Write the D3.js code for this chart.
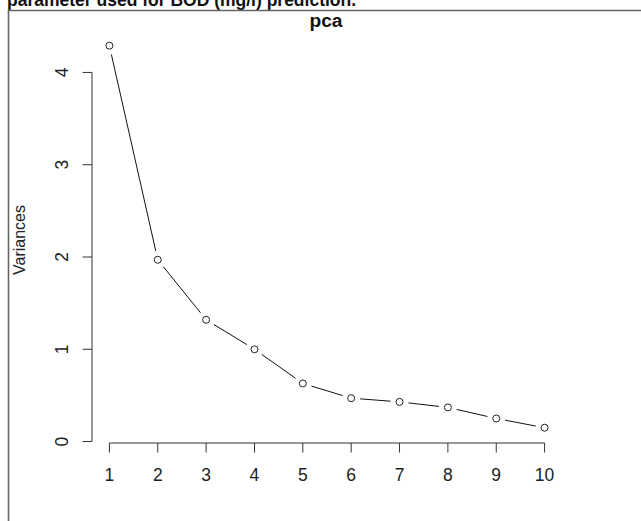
<!DOCTYPE html>
<html>
<head>
<meta charset="utf-8">
<script src="https://cdn.jsdelivr.net/npm/d3@7"></script>
<style>
  html, body { margin: 0; padding: 0; background: #fff; }
  svg { display: block; font-family: "Liberation Sans", Arial, Helvetica, sans-serif; }
</style>
</head>
<body>
<svg id="chart" width="641" height="521"></svg>
<script>
// ---- data ----
const components = [1, 2, 3, 4, 5, 6, 7, 8, 9, 10];
const variances = [4.29, 1.97, 1.32, 1.00, 0.63, 0.47, 0.43, 0.37, 0.25, 0.15];
const yTicks = [0, 1, 2, 3, 4];
const xTickLabels = ["1", "2", "3", "4", "5", "6", "7", "8", "9", "10"];
const chartTitle = "pca";
const yLabel = "Variances";
const captionText = "parameter used for BOD (mg/l) prediction.";

// ---- layout ----
const svg = d3.select("#chart");
const plot = { left: 92, right: 562, top: 30.4, bottom: 443 };

// R-style 4% axis expansion
const xr = d3.extent(components), xpad = (xr[1] - xr[0]) * 0.04;
const yr = d3.extent(variances), ypad = (yr[1] - yr[0]) * 0.04;
const x = d3.scaleLinear().domain([xr[0] - xpad, xr[1] + xpad]).range([plot.left, plot.right]);
const y = d3.scaleLinear().domain([yr[0] - ypad, yr[1] + ypad]).range([plot.bottom, plot.top]);

// cropped caption at top (cut off in the reference as well)
svg.append("text")
  .attr("x", 7).attr("y", 6)
  .attr("font-weight", "bold").attr("font-size", 17.5)
  .attr("fill", "#111")
  .text(captionText);

// outer frame (partially cropped)
svg.append("path")
  .attr("d", "M8.5,521 L8.5,10.5 L641,10.5")
  .attr("fill", "none").attr("stroke", "#666").attr("stroke-width", 1.6);

// title
svg.append("text")
  .attr("x", 326).attr("y", 27)
  .attr("text-anchor", "middle")
  .attr("font-weight", "bold").attr("font-size", 19.2)
  .attr("fill", "#111")
  .text(chartTitle);

// y axis
const yAxis = svg.append("g").attr("stroke", "#333").attr("fill", "none");
yAxis.append("line")
  .attr("x1", plot.left).attr("x2", plot.left)
  .attr("y1", y(yTicks[0])).attr("y2", y(yTicks[yTicks.length - 1]));
yAxis.selectAll("line.tick").data(yTicks).enter().append("line")
  .attr("class", "tick")
  .attr("x1", plot.left).attr("x2", plot.left - 9.5)
  .attr("y1", d => y(d)).attr("y2", d => y(d));
svg.selectAll("text.ytl").data(yTicks).enter().append("text")
  .attr("class", "ytl")
  .attr("transform", d => `translate(68,${y(d)}) rotate(-90)`)
  .attr("text-anchor", "middle")
  .attr("font-size", 17.5).attr("fill", "#222")
  .text(d => d);

// x axis
const xAxis = svg.append("g").attr("stroke", "#333").attr("fill", "none");
xAxis.append("line")
  .attr("x1", x(components[0])).attr("x2", x(components[components.length - 1]))
  .attr("y1", plot.bottom).attr("y2", plot.bottom);
xAxis.selectAll("line.tick").data(components).enter().append("line")
  .attr("class", "tick")
  .attr("x1", d => x(d)).attr("x2", d => x(d))
  .attr("y1", plot.bottom).attr("y2", plot.bottom + 9.5);
svg.selectAll("text.xtl").data(components).enter().append("text")
  .attr("class", "xtl")
  .attr("x", d => x(d)).attr("y", 481)
  .attr("text-anchor", "middle")
  .attr("font-size", 17.5).attr("fill", "#222")
  .text((d, i) => xTickLabels[i]);

// y label
svg.append("text")
  .attr("transform", "translate(25,240) rotate(-90)")
  .attr("text-anchor", "middle")
  .attr("font-size", 16).attr("fill", "#222")
  .text(yLabel);

// lines with gaps (type = "b")
const pts = components.map((c, i) => [x(c), y(variances[i])]);
const gap = 9;
const segs = d3.pairs(pts).map(([a, b]) => {
  const dx = b[0] - a[0], dy = b[1] - a[1], len = Math.hypot(dx, dy);
  const ux = dx / len, uy = dy / len;
  return len > 2 * gap ? [a[0] + ux * gap, a[1] + uy * gap, b[0] - ux * gap, b[1] - uy * gap] : null;
}).filter(s => s);
svg.selectAll("line.seg").data(segs).enter().append("line")
  .attr("class", "seg")
  .attr("x1", d => d[0]).attr("y1", d => d[1])
  .attr("x2", d => d[2]).attr("y2", d => d[3])
  .attr("stroke", "#111").attr("stroke-width", 1);

// points
svg.selectAll("circle.pt").data(components).enter().append("circle")
  .attr("class", "pt")
  .attr("cx", d => x(d)).attr("cy", (d, i) => y(variances[i]))
  .attr("r", 3.5)
  .attr("fill", "none").attr("stroke", "#222").attr("stroke-width", 1);
</script>
</body>
</html>
